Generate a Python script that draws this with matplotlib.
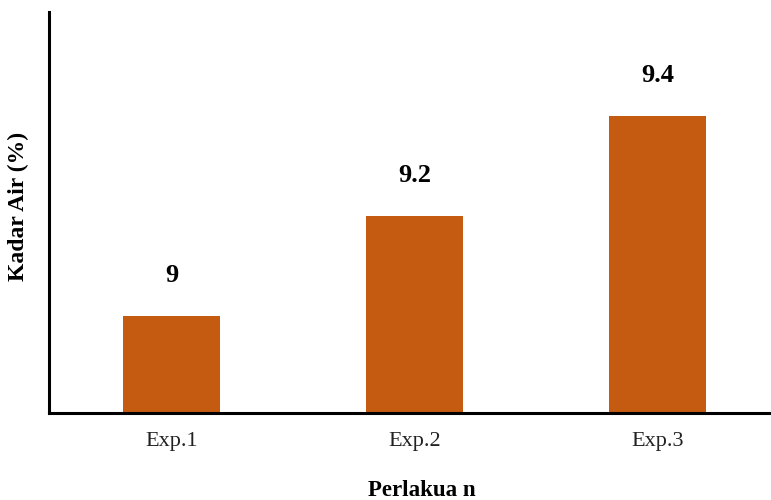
import matplotlib.pyplot as plt

plt.rcParams['font.family'] = ['Liberation Serif', 'DejaVu Serif']

treatments = ['Exp.1', 'Exp.2', 'Exp.3']
moisture = [9.0, 9.2, 9.4]
value_labels = ['9', '9.2', '9.4']

fig = plt.figure(figsize=(7.71, 5.0), dpi=100)
ax = fig.add_axes([0.0636, 0.174, 0.9364, 0.802])

x = range(len(treatments))
ax.bar(x, moisture, width=0.4, color='#C55A11', bottom=0, zorder=2)

for xi, v, lab in zip(x, moisture, value_labels):
    ax.text(xi, v + 0.08, lab, ha='center', va='center',
            fontsize=19, fontweight='bold', color='black')

ax.set_ylim(8.806, 9.608)
ax.set_xlim(-0.504, 2.467)

ax.set_xticks(list(x))
ax.set_xticklabels(treatments, fontsize=16, color='#222222')
ax.tick_params(axis='x', length=0, pad=14)
ax.set_yticks([])

for side in ['top', 'right']:
    ax.spines[side].set_visible(False)
for side in ['left', 'bottom']:
    ax.spines[side].set_linewidth(2.2)
    ax.spines[side].set_color('black')

ax.set_ylabel('Kadar Air (%)', fontsize=17, fontweight='bold')
ax.yaxis.set_label_coords(-0.028, 0.514)
ax.set_xlabel('Perlakua n', fontsize=16.5, fontweight='bold')
ax.xaxis.set_label_coords(0.517, -0.168)

fig.savefig('out.png', dpi=100)
